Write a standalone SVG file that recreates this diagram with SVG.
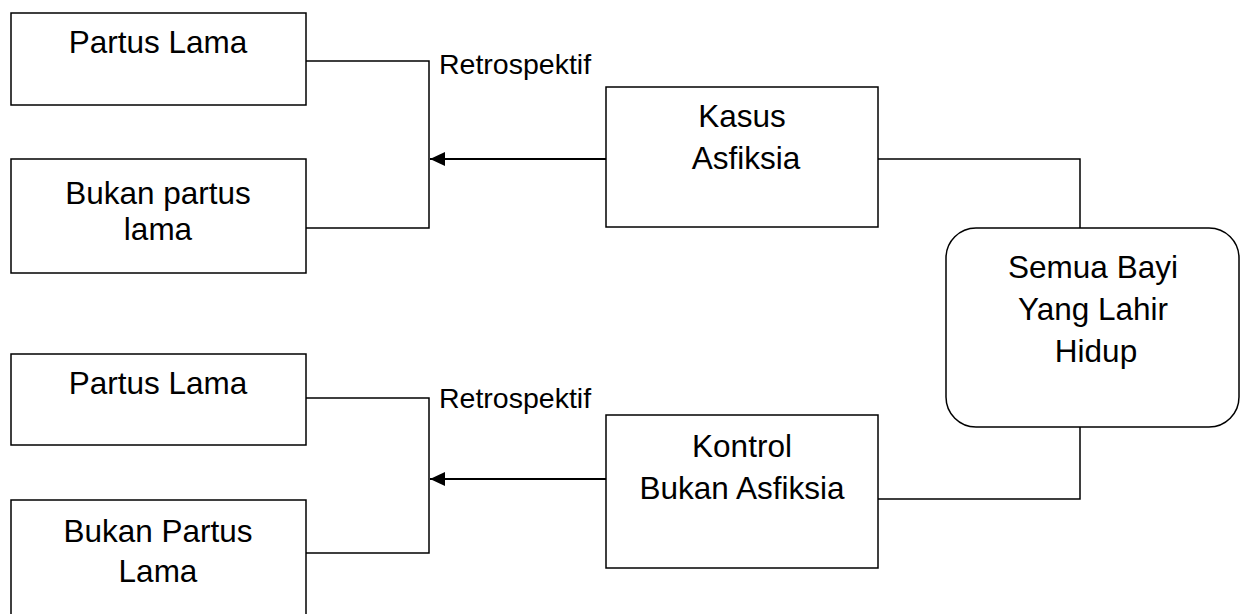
<svg xmlns="http://www.w3.org/2000/svg" width="1245" height="614" viewBox="0 0 1245 614">
<defs>
<style>
.box{fill:#fff;stroke:#000;stroke-width:1.5}
.t{font-family:"Liberation Sans",Arial,sans-serif;font-size:31.5px;fill:#000;text-anchor:middle}
.r{font-family:"Liberation Sans",Arial,sans-serif;font-size:28.5px;fill:#000}
.ln{fill:none;stroke:#000;stroke-width:1.5}
.ar{fill:none;stroke:#000;stroke-width:2;marker-end:url(#ah)}
</style>
<marker id="ah" viewBox="0 0 15 14" refX="15" refY="7" markerWidth="15" markerHeight="14" markerUnits="userSpaceOnUse" orient="auto">
<path d="M0,0 L15,7 L0,14 Z" fill="#000"/>
</marker>
</defs>
<rect width="1245" height="614" fill="#fff"/>
<g id="connectors">
<path class="ln" d="M306,61 H429 V228 H306"/>
<line class="ar" x1="606" y1="159" x2="430" y2="159"/>
<path class="ln" d="M878,159 H1080 V228"/>
<path class="ln" d="M306,398 H429 V553 H306"/>
<line class="ar" x1="606" y1="479" x2="430" y2="479"/>
<path class="ln" d="M1080,427 V499 H878"/>
<text class="r" x="439" y="74">Retrospektif</text>
<text class="r" x="439" y="408">Retrospektif</text>
</g>
<g id="partus-lama-1">
<rect class="box" x="11" y="13" width="295" height="92"/>
<text class="t" x="158" y="53">Partus Lama</text>
</g>
<g id="bukan-partus-lama-1">
<rect class="box" x="11" y="159" width="295" height="114"/>
<text class="t" x="158" y="204">Bukan partus</text>
<text class="t" x="158" y="240">lama</text>
</g>
<g id="kasus-asfiksia">
<rect class="box" x="606" y="87" width="272" height="140"/>
<text class="t" x="742" y="127">Kasus</text>
<text class="t" x="746" y="169">Asfiksia</text>
</g>
<g id="semua-bayi">
<rect class="box" x="946" y="228" width="293" height="199" rx="30" ry="30"/>
<text class="t" x="1093" y="278">Semua Bayi</text>
<text class="t" x="1093" y="320">Yang Lahir</text>
<text class="t" x="1096" y="362">Hidup</text>
</g>
<g id="partus-lama-2">
<rect class="box" x="11" y="354" width="295" height="91"/>
<text class="t" x="158" y="394">Partus Lama</text>
</g>
<g id="bukan-partus-lama-2">
<rect class="box" x="11" y="500" width="295" height="130"/>
<text class="t" x="158" y="542">Bukan Partus</text>
<text class="t" x="158" y="582">Lama</text>
</g>
<g id="kontrol">
<rect class="box" x="606" y="415" width="272" height="153"/>
<text class="t" x="742" y="457">Kontrol</text>
<text class="t" x="742" y="499">Bukan Asfiksia</text>
</g>
</svg>
